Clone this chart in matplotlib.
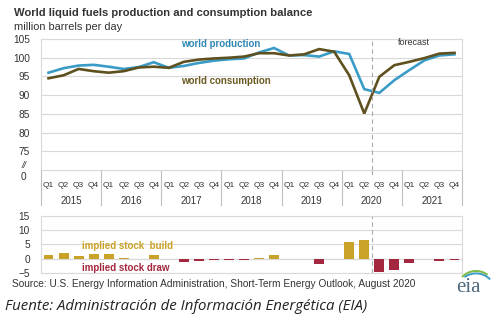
import matplotlib
matplotlib.use("Agg")
import matplotlib.pyplot as plt
from matplotlib.patches import Arc

plt.rcParams['font.family'] = ['Liberation Sans', 'DejaVu Sans']

quarters = ['Q1', 'Q2', 'Q3', 'Q4'] * 7
years = ['2015', '2016', '2017', '2018', '2019', '2020', '2021']

production = [96.0, 97.2, 97.9, 98.1, 97.6, 97.0, 97.5, 98.8,
              97.3, 97.8, 98.6, 99.2, 99.6, 99.8, 101.4, 102.6,
              100.6, 100.7, 100.3, 101.7, 101.0, 91.6, 90.6, 94.0,
              96.7, 99.3, 100.6, 100.9]
consumption = [94.5, 95.3, 97.0, 96.4, 96.0, 96.4, 97.4, 97.6,
               97.3, 98.9, 99.5, 99.8, 100.0, 100.3, 101.2, 101.2,
               100.6, 100.9, 102.3, 101.6, 95.3, 85.1, 94.9, 98.0,
               98.9, 99.9, 101.1, 101.3]
stock_change = [1.5, 1.9, 0.9, 1.7, 1.6, 0.3, 0.0, 1.3,
                0.0, -1.2, -0.6, -0.5, -0.4, -0.3, 0.2, 1.4,
                0.0, -0.2, -1.9, 0.0, 5.8, 6.6, -4.6, -3.8,
                -1.5, -0.2, -0.6, -0.5]

c_prod = '#3A9CC6'
c_cons = '#5F501F'
c_build = '#C9A227'
c_draw = '#A3283F'
c_grid = '#D9D9D9'
c_text = '#333333'

W, H = 500, 324
fig = plt.figure(figsize=(5, 3.24), dpi=100)
fig.patch.set_facecolor('white')

def frac(x0, y0, x1, y1):
    # pixel box -> figure fraction [left, bottom, width, height]
    return [x0 / W, 1 - y1 / H, (x1 - x0) / W, (y1 - y0) / H]

x = list(range(len(quarters)))

# top chart
ax = fig.add_axes(frac(41, 39, 462, 170))
ax.plot(x, production, color=c_prod, lw=1.9, solid_joinstyle='miter')
ax.plot(x, consumption, color=c_cons, lw=1.9, solid_joinstyle='miter')
ax.set_xlim(-0.5, 27.5)
ax.set_ylim(70, 105)
ax.set_yticks([75, 80, 85, 90, 95, 100, 105])
ax.tick_params(axis='y', length=0, labelsize=7.3, labelcolor=c_text, pad=8)
ax.set_xticks([])
ax.grid(axis='y', color=c_grid, lw=0.8)
for s in ax.spines.values():
    s.set_color(c_grid)
    s.set_linewidth(0.8)
ax.text(-0.035, 71.2, '//', transform=ax.get_yaxis_transform(), ha='right',
        va='center', fontsize=6.5, color=c_text, style='italic')
ax.text(-0.035, 68.2, '0', transform=ax.get_yaxis_transform(), ha='right',
        va='center', fontsize=7.3, color=c_text, clip_on=False)
ax.axvline(21.5, ymin=0, ymax=1, color='#AAAAAA', lw=0.8, ls=(0, (4, 3)))
ax.text(24.3, 104.0, 'forecast', ha='center', va='center', fontsize=6.5, color=c_text)
ax.text(8.8, 103.6, 'world production', color='#2F87B2', fontsize=7,
        fontweight='bold', va='center')
ax.text(8.8, 93.9, 'world consumption', color='#6B5A22', fontsize=7,
        fontweight='bold', va='center')

# category labels below the top chart
tr = ax.get_xaxis_transform()
for i, q in enumerate(quarters):
    ax.text(i, -0.115, q, transform=tr, ha='center', va='center', fontsize=6,
            color=c_text, clip_on=False)
for k, yr in enumerate(years):
    ax.text(4 * k + 1.5, -0.235, yr, transform=tr, ha='center', va='center',
            fontsize=7, color=c_text, clip_on=False)
for k in range(8):
    ax.plot([4 * k - 0.5] * 2, [0, -0.27], transform=tr, color='#BFBFBF',
            lw=0.8, clip_on=False)
ax.plot([21.5, 21.5], [0, -0.04], transform=tr, color='#AAAAAA', lw=0.8,
        ls=(0, (4, 3)), clip_on=False)

# bottom chart
bx = fig.add_axes(frac(41, 215.7, 462, 273.3))
colors = [c_build if v >= 0 else c_draw for v in stock_change]
bx.bar(x, stock_change, width=0.66, color=colors)
bx.set_xlim(-0.5, 27.5)
bx.set_ylim(-5, 15)
bx.set_yticks([-5, 0, 5, 10, 15])
bx.tick_params(axis='y', length=0, labelsize=7.3, labelcolor=c_text, pad=8)
bx.set_xticks([])
bx.grid(axis='y', color=c_grid, lw=0.8)
bx.set_axisbelow(True)
bx.axhline(0, color='#A6A6A6', lw=0.8, zorder=0.5)
for s in bx.spines.values():
    s.set_color(c_grid)
    s.set_linewidth(0.8)
bx.axvline(21.5, color='#AAAAAA', lw=0.8, ls=(0, (4, 3)))
bx.text(2.2, 4.5, 'implied stock  build', color=c_build, fontsize=7,
        fontweight='bold', va='center')
bx.text(2.2, -3.2, 'implied stock draw', color=c_draw, fontsize=7,
        fontweight='bold', va='center')

# titles and notes
fig.text(14 / W, 1 - 13 / H, 'World liquid fuels production and consumption balance',
         fontsize=8.1, fontweight='bold', color=c_text, va='center')
fig.text(14 / W, 1 - 27 / H, 'million barrels per day', fontsize=7.9,
         color=c_text, va='center')
fig.text(12 / W, 1 - 284 / H,
         'Source: U.S. Energy Information Administration, Short-Term Energy Outlook, August 2020',
         fontsize=7.3, color=c_text, va='center')
fig.text(5 / W, 1 - 307 / H, 'Fuente: Administración de Información Energética (EIA)',
         fontsize=10.8, style='italic', color='#222222', va='center',
         family=['Open Sans', 'DejaVu Sans'])

# eia logo
fig.text(468 / W, 1 - 287 / H, 'eia', fontsize=15, family=['Liberation Serif'],
         color='#4E6A80', ha='center', va='center')
logo = fig.add_axes(frac(450, 262, 492, 292))
logo.set_xlim(0, 1)
logo.set_ylim(0, 1)
logo.axis('off')
logo.add_patch(Arc((0.62, 0.1), 0.9, 1.2, theta1=60, theta2=130, color='#7DBB42', lw=1.4))
logo.add_patch(Arc((0.62, 0.02), 0.9, 1.2, theta1=50, theta2=120, color='#3A9CC6', lw=1.4))

fig.savefig('out.png', dpi=100)
